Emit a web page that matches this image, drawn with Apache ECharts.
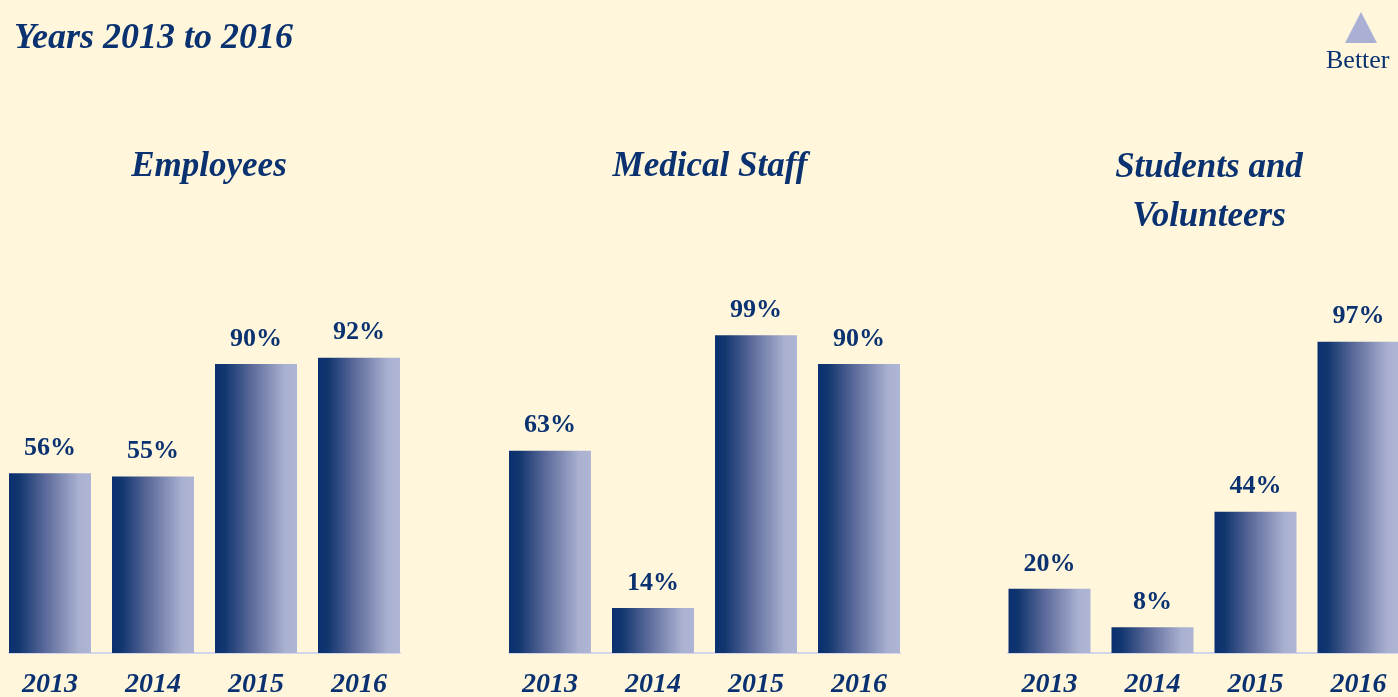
<!DOCTYPE html>
<html lang="en">
<head>
    <meta charset="utf-8">
    <title>Years 2013 to 2016</title>
    <script src="https://cdn.jsdelivr.net/npm/echarts@6/dist/echarts.min.js"></script>
    <style type="text/css">
        html, body { height: 100%; margin: 0; background: #fff6dc; }
    </style>
</head>
<body>
    <div id="main" style="width:1398px;height:697px;"></div>
    <script type="text/javascript">
        // data
        var years = ['2013', '2014', '2015', '2016'];
        var panelNames = ['Employees', 'Medical Staff', 'Students and\nVolunteers'];
        var employees = [56, 55, 90, 92];
        var medicalStaff = [63, 14, 99, 90];
        var studentsVolunteers = [20, 8, 44, 97];
        var panelValues = [employees, medicalStaff, studentsVolunteers];

        var navy = '#0b3270';
        var font = 'Liberation Serif';

        // panel layout (the last panel runs off the right edge)
        var barLeft = [-1.5, 498.5, 998];
        var barRight = [987.5, 487.5, -12];
        var lineLeft = [9, 509, 1008];
        var lineRight = [998, 498, -1];
        var titleCenter = [204, 705, 1204];

        var myChart = echarts.init(document.getElementById('main'));

        var barGradient = new echarts.graphic.LinearGradient(0, 0, 1, 0, [
            { offset: 0, color: '#0a3070' },
            { offset: 0.12, color: '#11366f' },
            { offset: 0.45, color: '#5d6b9b' },
            { offset: 0.85, color: '#a9b0d0' },
            { offset: 1, color: '#afb5d5' }
        ]);

        var grid = [], xAxis = [], yAxis = [], series = [];
        var title = [{
            text: 'Years 2013 to 2016',
            left: 9,
            top: 16,
            textStyle: { color: navy, fontFamily: font, fontStyle: 'italic', fontWeight: 'bold', fontSize: 36 }
        }];

        for (var i = 0; i < 3; i++) {
            // bar grid
            grid.push({ left: barLeft[i], right: barRight[i], top: 332, bottom: 44, outerBoundsMode: 'none' });
            // baseline grid
            grid.push({ left: lineLeft[i], right: lineRight[i], top: 332, bottom: 44, outerBoundsMode: 'none' });

            xAxis.push({
                type: 'category',
                gridIndex: 2 * i,
                data: years,
                axisLine: { show: false },
                axisTick: { show: false },
                axisLabel: {
                    margin: 18,
                    color: navy,
                    fontFamily: font,
                    fontStyle: 'italic',
                    fontWeight: 'bold',
                    fontSize: 28
                }
            });
            xAxis.push({
                type: 'value',
                gridIndex: 2 * i + 1,
                min: 0,
                max: 1,
                axisLine: { show: true, lineStyle: { color: '#d3d6ea', width: 2 } },
                axisTick: { show: false },
                axisLabel: { show: false },
                splitLine: { show: false }
            });
            yAxis.push({ type: 'value', gridIndex: 2 * i, min: 0, max: 100, show: false });
            yAxis.push({ type: 'value', gridIndex: 2 * i + 1, min: 0, max: 1, show: false });

            series.push({
                type: 'bar',
                name: panelNames[i],
                xAxisIndex: 2 * i,
                yAxisIndex: 2 * i,
                data: panelValues[i],
                barWidth: 82,
                itemStyle: { color: barGradient },
                label: {
                    show: true,
                    position: 'top',
                    distance: 12,
                    formatter: '{c}%',
                    color: navy,
                    fontFamily: font,
                    fontWeight: 'bold',
                    fontSize: 26
                }
            });

            title.push({
                text: panelNames[i],
                left: titleCenter[i],
                top: i === 2 ? 138 : 137,
                textAlign: 'center',
                textStyle: {
                    color: navy,
                    fontFamily: font,
                    fontStyle: 'italic',
                    fontWeight: 'bold',
                    fontSize: 35,
                    lineHeight: 49,
                    align: 'center'
                }
            });
        }

        var option = {
            backgroundColor: '#fff6dc',
            animation: false,
            title: title,
            grid: grid,
            xAxis: xAxis,
            yAxis: yAxis,
            series: series,
            graphic: [
                {
                    type: 'polygon',
                    shape: { points: [[1345, 43], [1361, 12], [1377, 43]] },
                    style: { fill: '#a9b0d4' }
                },
                {
                    type: 'text',
                    left: 1326,
                    top: 48,
                    style: { text: 'Better', fill: navy, font: '26px "Liberation Serif"' }
                }
            ]
        };

        myChart.setOption(option);
    </script>
</body>
</html>
